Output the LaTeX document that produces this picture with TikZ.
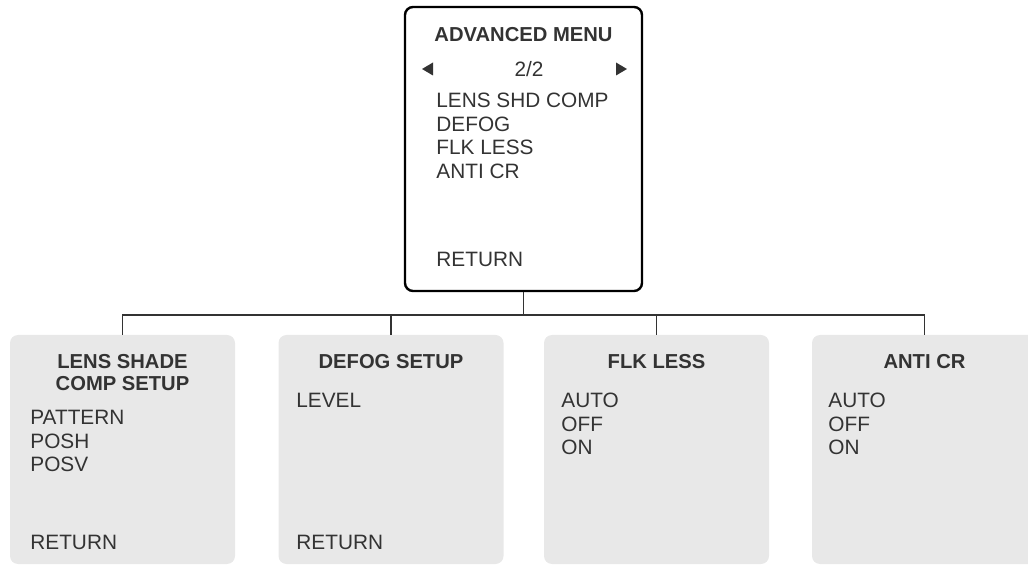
\documentclass[tikz,border=0pt]{standalone}
\usepackage{fontspec}
\setmainfont{Liberation Sans}
\usetikzlibrary{positioning}
\definecolor{menutext}{HTML}{333333}
\definecolor{panelgrey}{HTML}{E8E8E8}
\tikzset{
  menubox/.style={draw=black,line width=1.2pt,rounded corners=4pt,minimum width=118.5pt,minimum height=142pt,inner sep=0pt},
  setupbox/.style={fill=panelgrey,rounded corners=4pt,minimum width=112.5pt,minimum height=114.5pt,inner sep=0pt},
  menutitle/.style={font=\bfseries\fontsize{10.1}{10.85}\selectfont,text=menutext,align=center,inner sep=0pt},
  entry/.style={font=\fontsize{10.4}{11.75}\selectfont,text=menutext,align=left,inner sep=0pt,anchor=north west},
  link/.style={draw=menutext,line width=0.6pt},
}

\begin{document}
\begin{tikzpicture}[x=0.5pt,y=-0.5pt]
  \useasboundingbox (0,0) rectangle (1028,566);
  % boxes
  \node[menubox] (adv) at (523.5,149) {};
  \node[setupbox] (lens) at (122.5,449.5) {};
  \node[setupbox] (defog) at (391,449.5) {};
  \node[setupbox] (flk) at (656.5,449.5) {};
  \node[setupbox] (anti) at (924.5,449.5) {};
  % connectors
  \coordinate (bus) at (523.5,315);
  \draw[link] (adv.south) -- (bus);
  \draw[link] (lens.north) |- (bus) -| (anti.north);
  \draw[link] (defog.north) -- (defog.north |- bus);
  \draw[link] (flk.north) -- (flk.north |- bus);
  % advanced menu
  \node[menutitle] (advtitle) at (523.5,35) {ADVANCED MENU};
  \fill[menutext] (422,69) -- (433,62.5) -- (433,75.5) -- cycle;
  \fill[menutext] (627,69) -- (616,62.5) -- (616,75.5) -- cycle;
  \node[entry,anchor=center] (advpage) at (529,69) {2/2};
  \node[entry] (advlist) at (436,93) {LENS SHD COMP\\DEFOG\\FLK LESS\\ANTI CR};
  \node[entry,anchor=west] (advret) at (436,259) {RETURN};
  % setup menus
  \node[menutitle] (lenstitle) at (122.5,372.5) {LENS SHADE\\COMP SETUP};
  \node[entry] (lenslist) at (30,410) {PATTERN\\POSH\\POSV};
  \node[entry,anchor=west] (lensret) at (30,542) {RETURN};
  \node[menutitle] (defogtitle) at (391,362) {DEFOG SETUP};
  \node[entry,anchor=west] (defoglist) at (296,400) {LEVEL};
  \node[entry,anchor=west] (defogret) at (296,542) {RETURN};
  \node[menutitle] (flktitle) at (656.5,362) {FLK LESS};
  \node[entry] (flklist) at (561,393) {AUTO\\OFF\\ON};
  \node[menutitle] (antititle) at (924.5,362) {ANTI CR};
  \node[entry] (antilist) at (828,393) {AUTO\\OFF\\ON};
\end{tikzpicture}
\end{document}
